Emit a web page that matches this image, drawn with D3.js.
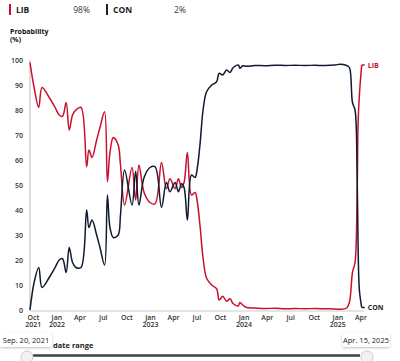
<!DOCTYPE html>
<html><head><meta charset="utf-8">
<script src="https://cdn.jsdelivr.net/npm/d3@7"></script>
<style>
body{margin:0;background:#fff;font-family:"Open Sans",Lato,sans-serif;}
svg{display:block}
</style></head><body>
<svg id="c" width="400" height="361"></svg>
<script>
// ---- data ----
const dates = ["2021-09-20","2021-10-06","2021-10-24","2021-11-06","2021-12-04","2021-12-27","2022-01-12","2022-01-25","2022-02-08","2022-02-20","2022-03-05","2022-03-18","2022-04-07","2022-04-29","2022-05-08","2022-05-20","2022-06-07","2022-06-20","2022-07-08","2022-07-19","2022-07-29","2022-08-11","2022-08-30","2022-09-08","2022-09-24","2022-10-23","2022-11-06","2022-11-19","2022-12-09","2023-01-01","2023-01-21","2023-02-15","2023-03-06","2023-03-20","2023-04-09","2023-04-22","2023-05-04","2023-05-14","2023-05-27","2023-06-12","2023-06-26","2023-07-05","2023-07-15","2023-07-28","2023-08-10","2023-08-30","2023-09-18","2023-09-28","2023-10-12","2023-10-27","2023-11-09","2023-11-22","2023-12-12","2023-12-18","2023-12-29","2024-01-13","2024-02-15","2024-03-25","2024-05-03","2024-06-11","2024-07-20","2024-08-28","2024-10-06","2024-11-14","2024-12-23","2025-01-11","2025-02-06","2025-02-17","2025-03-01","2025-03-11","2025-03-19","2025-03-23","2025-03-28","2025-04-06"];
const libValues = [99,89,81,89,85,81,78,77.5,83,72,78,80,81,57.3,64,61,68,73,79.3,51.3,63,69,66,58,42,57,44,58,47,43,42.5,59,48.5,52.5,48.5,52.5,49,51,63,46,47,43,34,20,12.7,10,8.5,4,5.5,3.5,4.5,2.5,1.7,3,2,1,0.8,0.6,0.7,0.5,0.6,0.5,0.6,0.5,0.4,0.3,0.8,3,15,19,45,75,86,98];
const conValues = [0,11,17,9,13,17,20,20.5,15,25,19,17,17,40,33,36,30,25,18,46,33,29,30,38,56,42,55.5,42,53,57,57.3,41,51,47.3,51,47.3,50.5,49,36,54,53,57,66,80.7,87.3,90,91.3,94.7,94,96,95,97,98,96.7,97.7,97.5,97.8,97.7,97.9,97.8,97.9,97.8,97.9,97.8,98,98.3,97.8,97,83,80,55,25,8,1];
const seriesNames = ["LIB","CON"];
const headerValues = ["98%","2%"];
const colors = ["#c8102e","#0f1a2e"];
const yTicks = [0,10,20,30,40,50,60,70,80,90,100];
const xTickDates = ["2021-10-01","2022-01-01","2022-04-01","2022-07-01","2022-10-01","2023-01-01","2023-04-01","2023-07-01","2023-10-01","2024-01-01","2024-04-01","2024-07-01","2024-10-01","2025-01-01","2025-04-01"];
const dateRange = ["2021-09-20","2025-04-15"];
const rangeLabels = ["Sep. 20, 2021","Apr. 15, 2025"];

const parse = d3.utcParse("%Y-%m-%d");
const svg = d3.select("#c");
const x = d3.scaleUtc().domain(dateRange.map(parse)).range([30,364]);
const y = d3.scaleLinear().domain([0,100]).range([310,60]);

// header legend
const hdr = [{n:seriesNames[0],v:headerValues[0],x0:9,xv:90,c:colors[0]},{n:seriesNames[1],v:headerValues[1],x0:106,xv:186,c:"#222"}];
hdr.forEach(h=>{
  svg.append("rect").attr("x",h.x0).attr("y",4).attr("width",2).attr("height",11).attr("fill",h.c);
  svg.append("text").attr("x",h.x0+7).attr("y",13).attr("font-size",8.5).attr("font-weight",700).attr("fill","#222").text(h.n);
  svg.append("text").attr("x",h.xv).attr("y",13).attr("text-anchor","end").attr("font-size",8.5).attr("fill","#333").text(h.v);
});
svg.append("text").attr("x",10).attr("y",33.5).attr("font-size",7).attr("font-weight",700).attr("fill","#111").text("Probability");
svg.append("text").attr("x",10).attr("y",41.5).attr("font-size",7).attr("font-weight",700).attr("fill","#111").text("(%)");

// y axis
const ya = svg.append("g").attr("transform","translate(30,0)").call(d3.axisLeft(y).tickValues(yTicks).tickSize(0).tickPadding(7));
ya.select(".domain").attr("stroke","#bbb").attr("d","M0,60V311");
ya.selectAll("text").attr("font-size",7).attr("font-weight",600).attr("fill","#333").attr("font-family","'Open Sans',sans-serif");

// x axis
const xa = svg.append("g").attr("transform","translate(0,311)").call(d3.axisBottom(x).tickValues(xTickDates.map(parse)).tickSize(0).tickPadding(4).tickFormat(""));
xa.select(".domain").attr("stroke","#ccc").attr("d","M30,0H364");
const mfmt = d3.utcFormat("%b");
xa.selectAll(".tick").each(function(d,i){
  const t = d3.select(this).append("text").attr("y",8.5).attr("text-anchor","middle").attr("font-size",7).attr("font-weight",600).attr("fill","#333").attr("font-family","'Open Sans',sans-serif");
  t.append("tspan").attr("x",0).text(mfmt(d));
  if (d.getUTCMonth()===0 || i===0) t.append("tspan").attr("x",0).attr("dy",7.5).text(d.getUTCFullYear());
});

// lines
const dd = dates.map(parse);
const line = d3.line().x(d=>x(d[0])).y(d=>y(d[1])).curve(d3.curveCatmullRom.alpha(0.5));
[libValues,conValues].forEach((vals,k)=>{
  const pts = dd.map((d,i)=>[d,vals[i]]);
  svg.append("path").datum(pts).attr("d",line).attr("fill","none").attr("stroke",colors[k]).attr("stroke-width",1.5).attr("stroke-linejoin","round");
  const last = pts[pts.length-1];
  const lx = x(last[0]), ly = y(last[1]);
  svg.append("line").attr("x1",lx).attr("x2",lx+3).attr("y1",ly).attr("y2",ly).attr("stroke",colors[k]).attr("stroke-width",1.5);
  svg.append("text").attr("x",lx+6).attr("y",ly+2.5).attr("font-size",7).attr("font-weight",700).attr("fill",k===0?"#c8102e":"#222").text(seriesNames[k]);
});

// slider
const defs = svg.append("defs");
const f = defs.append("filter").attr("id","sh").attr("x","-20%").attr("y","-40%").attr("width","140%").attr("height","180%");
f.append("feDropShadow").attr("dx",0).attr("dy",1).attr("stdDeviation",1.2).attr("flood-color","#000").attr("flood-opacity",0.25);
svg.append("line").attr("x1",x(parse(dateRange[0]))+3).attr("x2",x(parse(dateRange[1]))-4).attr("y1",355.5).attr("y2",355.5).attr("stroke","#3b3f48").attr("stroke-width",2.5);
[[0,-3],[1,3]].forEach(([k,off])=>{
  svg.append("circle").attr("cx",x(parse(dateRange[k]))+off).attr("cy",357).attr("r",6).attr("fill","#f2f2f2").attr("stroke","#ccc").attr("stroke-width",1);
});
const boxes = [{x:0,w:52,t:rangeLabels[0]},{x:342,w:48,t:rangeLabels[1]}];
boxes.forEach(b=>{
  svg.append("rect").attr("x",b.x).attr("y",333).attr("width",b.w).attr("height",14).attr("rx",2).attr("fill","#fff").attr("filter","url(#sh)");
  svg.append("text").attr("x",b.x+b.w/2).attr("y",343).attr("text-anchor","middle").attr("font-size",7.5).attr("fill","#222").text(b.t);
});
svg.append("text").attr("x",53).attr("y",348).attr("font-size",7.5).attr("font-weight",700).attr("fill","#222").text("date range");
</script>
</body></html>
